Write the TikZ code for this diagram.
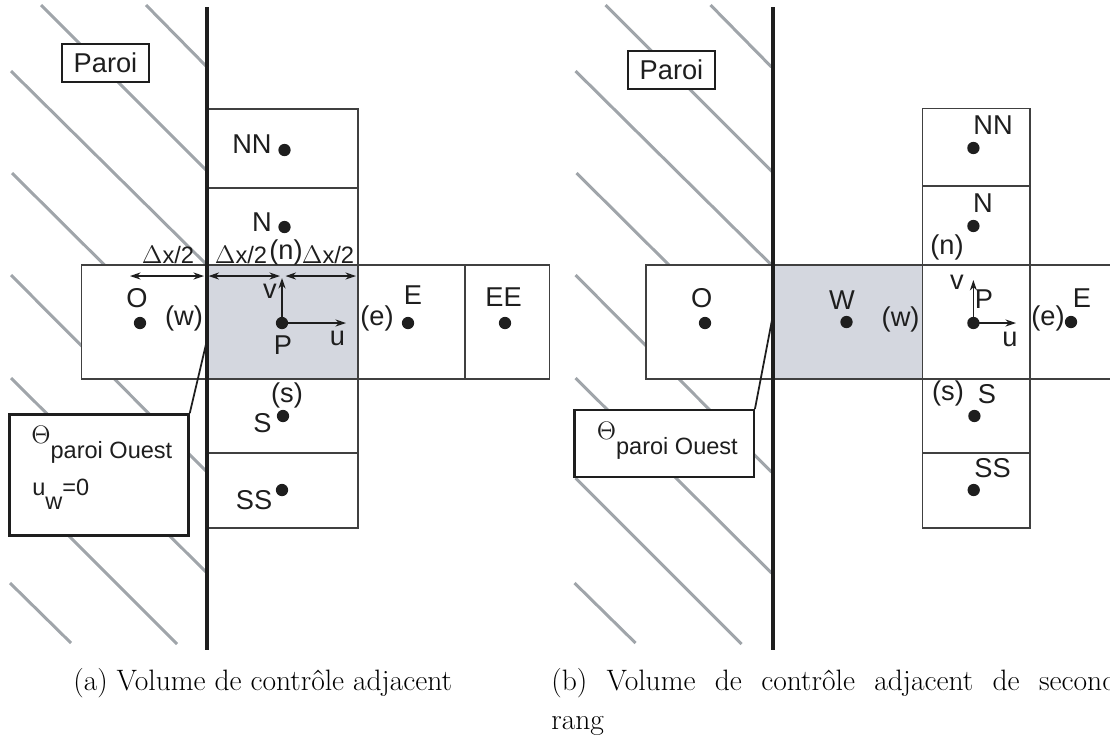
\documentclass[tikz,border=0pt]{standalone}
\usepackage{fontspec}
\usepackage{amsmath}
\newfontfamily\labelfont{Liberation Sans}
\usetikzlibrary{arrows.meta, positioning}
\definecolor{hatchgray}{RGB}{160, 165, 170}
\definecolor{cellgray}{RGB}{212, 215, 223}
\definecolor{inkblack}{RGB}{30, 30, 30}

\tikzset{
  hatch/.style={line width=1.7pt, hatchgray},
  wall/.style={line width=2pt, inkblack},
  cell/.style={line width=1pt, draw=inkblack!85, fill=white},
  hotcell/.style={cell, fill=cellgray},
  tag/.style={inner sep=0pt, font=\labelfont\fontsize{15.5}{17}\selectfont, text=inkblack},
  smalltag/.style={tag, font=\labelfont\fontsize{13.5}{16}\selectfont},
  boxtag/.style={tag, font=\labelfont\fontsize{13.4}{16}\selectfont},
  pointdot/.style={circle, fill=inkblack, inner sep=0pt, minimum size=7pt},
  framebox/.style={draw=inkblack, line width=1.3pt, fill=white, inner sep=0pt},
  vec/.style={line width=0.7pt, inkblack, -{Stealth[length=6pt, width=4pt]}},
  span/.style={line width=0.7pt, inkblack, {Stealth[length=6pt, width=4pt]}-{Stealth[length=6pt, width=4pt]}},
  caption/.style={inner sep=0pt, anchor=base west, font=\fontsize{16.8}{19}\selectfont}
}

\begin{document}
\begin{tikzpicture}[x=0.02cm, y=-0.02cm]
  \useasboundingbox (0, 0) rectangle (1110, 745);

  % hatching of the wall, same in both panels
  \foreach \off in {0, 564.5} {
    \foreach \xa/\ya/\xb/\yb in {41/5/208/172, 146/5/207/67, 11/71/207/265, 12/173/207/367,
      11/275/207/472, 11/378/207/573, 11/478/177/644, 10/583/71/643} {
      \draw[hatch] (\xa+\off, \ya) -- (\xb+\off, \yb);
    }
  }

  % left panel: cells
  \draw[cell] (81.5, 265) rectangle (207, 379);
  \draw[hotcell] (207, 265) rectangle (358, 379);
  \draw[cell] (358, 265) rectangle (465, 379);
  \draw[cell] (465, 265) rectangle (549.5, 379);
  \draw[cell] (207, 109) rectangle (358, 188);
  \draw[cell] (207, 188) rectangle (358, 265);
  \draw[cell] (207, 379) rectangle (358, 453);
  \draw[cell] (207, 453) rectangle (358, 528);

  % left panel: wall and boxes
  \draw[wall] (207, 7) -- (207, 650);
  \node[framebox, tag, minimum width=49.3pt, minimum height=21.5pt] (paroiA) at (105.5, 63) {Paroi};
  \node[framebox, minimum width=102pt, minimum height=69pt] (ouestA) at (99, 475) {};
  \coordinate (wallA) at (207, 340);
  \draw[line width=1pt, inkblack] (ouestA.north east) -- (wallA);
  \node[boxtag, anchor=west] (thetaA) at (31, 445) {\fontsize{15}{16}\selectfont$\Theta$\fontsize{13.4}{16}\selectfont\raisebox{-1.25ex}{paroi Ouest}};
  \node[boxtag, anchor=west] (uwA) at (32, 494) {u\raisebox{-1.1ex}{w}=0};

  % left panel: points
  \node[pointdot] (ptNNA) at (284.5, 150) {};
  \node[pointdot] (ptNA) at (284.5, 227) {};
  \node[pointdot] (ptOA) at (140, 323) {};
  \node[pointdot] (ptPA) at (282, 323) {};
  \node[pointdot] (ptEA) at (408, 323) {};
  \node[pointdot] (ptEEA) at (505, 323) {};
  \node[pointdot] (ptSA) at (283, 416) {};
  \node[pointdot] (ptSSA) at (282, 490) {};

  % left panel: arrows
  \coordinate (vtipA) at (282, 278);
  \coordinate (utipA) at (346, 323);
  \draw[vec] (ptPA.center) -- (vtipA);
  \draw[vec] (ptPA.center) -- (utipA);
  \coordinate (spanaA) at (130, 276);
  \coordinate (spanbA) at (204, 276);
  \coordinate (spancA) at (208.5, 276);
  \coordinate (spandA) at (280, 276);
  \coordinate (spaneA) at (285.5, 276);
  \coordinate (spanfA) at (356, 276);
  \draw[span] (spanaA) -- (spanbA);
  \draw[span] (spancA) -- (spandA);
  \draw[span] (spaneA) -- (spanfA);

  % left panel: labels
  \node[tag] (nnA) at (252, 144) {NN};
  \node[tag] (nA) at (262, 222) {N};
  \node[tag] (oA) at (137, 298) {O};
  \node[tag] (eA) at (413, 295) {E};
  \node[tag] (eeA) at (503.5, 297) {EE};
  \node[tag] (pA) at (283, 345) {P};
  \node[tag] (sA) at (262.5, 423) {S};
  \node[tag] (ssA) at (254, 500) {SS};
  \node[tag] (vA) at (270, 291) {v};
  \node[tag] (uA) at (337.5, 338) {u};
  \node[tag] (fnA) at (286, 252) {(n)};
  \node[tag] (fwA) at (184, 318) {(w)};
  \node[tag] (feA) at (377, 318) {(e)};
  \node[tag] (fsA) at (287, 395) {(s)};
  \node[smalltag] (dxaA) at (168, 255) {$\Delta$x/2};
  \node[smalltag] (dxbA) at (241, 255) {$\Delta$x/2};
  \node[smalltag] (dxcA) at (328, 255) {$\Delta$x/2};

  % right panel: cells
  \draw[cell] (646, 265) rectangle (773, 379);
  \draw[hotcell] (773, 265) rectangle (922.5, 379);
  \draw[cell] (922.5, 265) rectangle (1030, 379);
  \draw[cell] (1030, 265) rectangle (1115, 379);
  \draw[cell] (922.5, 108.5) rectangle (1030, 186);
  \draw[cell] (922.5, 186) rectangle (1030, 265);
  \draw[cell] (922.5, 379) rectangle (1030, 453);
  \draw[cell] (922.5, 453) rectangle (1030, 528);

  % right panel: wall and boxes
  \draw[wall] (773, 7) -- (773, 650);
  \node[framebox, tag, minimum width=49.3pt, minimum height=21.5pt] (paroiB) at (671.5, 70) {Paroi};
  \node[framebox, minimum width=102pt, minimum height=38pt] (ouestB) at (664.2, 443.5) {};
  \coordinate (wallB) at (772, 320);
  \draw[line width=1pt, inkblack] (ouestB.north east) -- (wallB);
  \node[boxtag, anchor=west] (thetaB) at (596.5, 441) {\fontsize{15}{16}\selectfont$\Theta$\fontsize{13.4}{16}\selectfont\raisebox{-1.25ex}{paroi Ouest}};

  % right panel: points
  \node[pointdot] (ptNNB) at (973.4, 148) {};
  \node[pointdot] (ptNB) at (973.4, 226) {};
  \node[pointdot] (ptOB) at (705, 323) {};
  \node[pointdot] (ptWB) at (846.5, 322) {};
  \node[pointdot] (ptPB) at (973.4, 323) {};
  \node[pointdot] (ptEB) at (1071, 322) {};
  \node[pointdot] (ptSB) at (974.4, 416) {};
  \node[pointdot] (ptSSB) at (973.7, 490) {};

  % right panel: arrows
  \coordinate (vtipB) at (973.4, 280);
  \coordinate (utipB) at (1016, 323);
  \draw[vec] (ptPB.center) -- (vtipB);
  \draw[vec] (ptPB.center) -- (utipB);

  % right panel: labels
  \node[tag] (nnB) at (993, 125) {NN};
  \node[tag] (nB) at (983, 203) {N};
  \node[tag] (oB) at (701.6, 298) {O};
  \node[tag] (wB) at (842, 300) {W};
  \node[tag] (pB) at (984, 299) {P};
  \node[tag] (eB) at (1082, 298) {E};
  \node[tag] (sB) at (987, 394) {S};
  \node[tag] (ssB) at (992.5, 468) {SS};
  \node[tag] (vB) at (957, 282) {v};
  \node[tag] (uB) at (1010, 339) {u};
  \node[tag] (fnB) at (947, 247) {(n)};
  \node[tag] (fwB) at (900.6, 319) {(w)};
  \node[tag] (feB) at (1048, 318) {(e)};
  \node[tag] (fsB) at (948, 393) {(s)};

  % captions
  \node[caption] (capA) at (73, 690) {(a) Volume de contr\^ole adjacent};
  \node[caption] (capB) at (551, 690) {\spaceskip=11pt (b) Volume de contr\^ole adjacent de second};
  \node[caption] (capC) at (551, 729) {rang};
\end{tikzpicture}
\end{document}
